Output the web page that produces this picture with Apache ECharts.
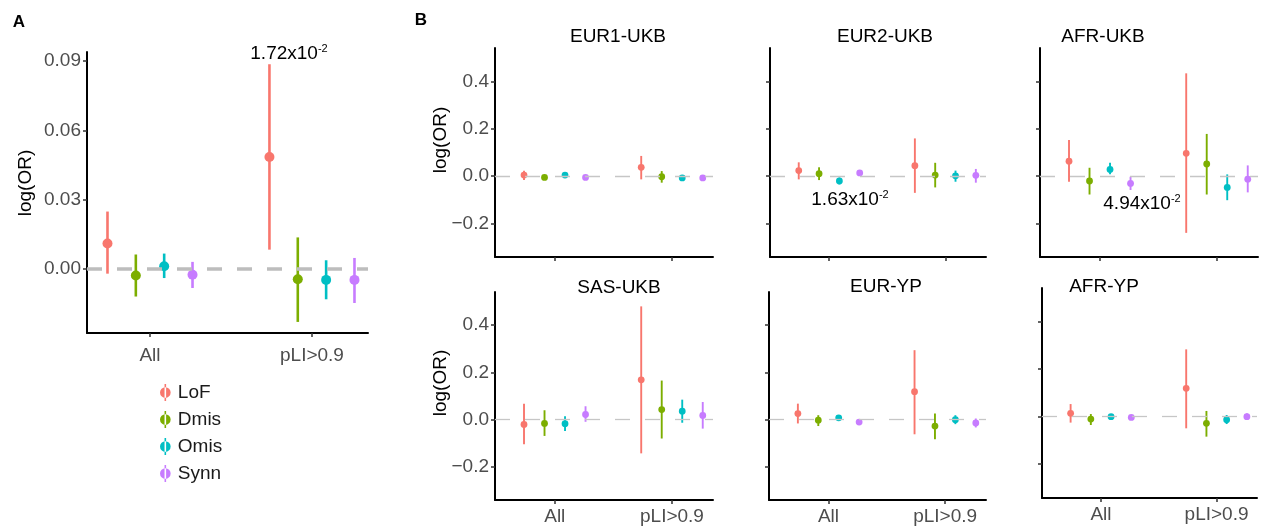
<!DOCTYPE html>
<html><head><meta charset="utf-8">
<script src="https://cdn.jsdelivr.net/npm/echarts@6/dist/echarts.min.js"></script>
<style>html,body{margin:0;padding:0;background:#fff}#c{width:1263px;height:531px}</style>
</head><body><div id="c"></div>
<script>
// ---------- data ----------
const categories = ['All', 'pLI>0.9'];
const groups = ['LoF', 'Dmis', 'Omis', 'Synn'];
const yTicksA = [0, 0.03, 0.06, 0.09];
const yTicksB = [-0.2, 0, 0.2, 0.4];

// rows = groups (LoF, Dmis, Omis, Synn), cols = categories (All, pLI>0.9)
const allEst = [[0.0111, 0.0485], [-0.0028, -0.0044], [0.0012, -0.0047], [-0.0025, -0.0047]];
const allLo  = [[-0.0020, 0.0084], [-0.0119, -0.0229], [-0.0039, -0.0131], [-0.0082, -0.0147]];
const allHi  = [[0.0249, 0.0887], [0.0063, 0.0137], [0.0067, 0.0038], [0.0031, 0.0048]];

const eur1UkbEst = [[0.004, 0.037], [-0.006, -0.003], [0.004, -0.008], [-0.006, -0.008]];
const eur1UkbLo  = [[-0.017, -0.014], [-0.013, -0.028], [-0.004, -0.018], [-0.013, -0.017]];
const eur1UkbHi  = [[0.022, 0.085], [0.001, 0.021], [0.012, 0.002], [0.001, 0.001]];

const eur2UkbEst = [[0.023, 0.044], [0.010, 0.004], [-0.021, 0.001], [0.013, 0.003]];
const eur2UkbLo  = [[-0.014, -0.071], [-0.017, -0.048], [-0.035, -0.024], [0.000, -0.028]];
const eur2UkbHi  = [[0.058, 0.159], [0.037, 0.056], [-0.006, 0.023], [0.025, 0.030]];

const afrUkbEst = [[0.063, 0.096], [-0.021, 0.051], [0.028, -0.048], [-0.031, -0.013]];
const afrUkbLo  = [[-0.024, -0.240], [-0.078, -0.078], [0.008, -0.102], [-0.059, -0.069]];
const afrUkbHi  = [[0.152, 0.434], [0.035, 0.178], [0.056, 0.007], [-0.003, 0.045]];

const sasUkbEst = [[-0.021, 0.168], [-0.017, 0.042], [-0.018, 0.035], [0.021, 0.017]];
const sasUkbLo  = [[-0.105, -0.144], [-0.070, -0.081], [-0.049, -0.014], [-0.010, -0.039]];
const sasUkbHi  = [[0.067, 0.480], [0.039, 0.165], [0.014, 0.084], [0.056, 0.074]];

const eurYpEst = [[0.025, 0.118], [-0.003, -0.028], [0.007, -0.001], [-0.011, -0.015]];
const eurYpLo  = [[-0.017, -0.063], [-0.028, -0.084], [-0.003, -0.020], [-0.019, -0.034]];
const eurYpHi  = [[0.067, 0.294], [0.018, 0.025], [0.015, 0.018], [-0.003, 0.004]];

const afrYpEst = [[0.014, 0.119], [-0.010, -0.028], [0.000, -0.013], [-0.003, 0.000]];
const afrYpLo  = [[-0.025, -0.049], [-0.035, -0.084], [-0.007, -0.031], [-0.010, -0.014]];
const afrYpHi  = [[0.053, 0.283], [0.011, 0.024], [0.007, 0.007], [0.004, 0.014]];

const panelTitles = ['', 'EUR1-UKB', 'EUR2-UKB', 'AFR-UKB', 'SAS-UKB', 'EUR-YP', 'AFR-YP'];
const pValues = ['1.72x10', '1.63x10', '4.94x10'];
const pExp = ['-2', '-2', '-2'];

// ---------- styling / layout ----------
const colors = ['#F8766D', '#7CAE00', '#00BFC4', '#C77CFF'];
const dodge = [-0.2625, -0.0875, 0.0875, 0.2625];
const FONT = 'Liberation Sans, Arial, Helvetica, sans-serif';
const FS = 19;

const panelData = [
  [allEst, allLo, allHi],
  [eur1UkbEst, eur1UkbLo, eur1UkbHi],
  [eur2UkbEst, eur2UkbLo, eur2UkbHi],
  [afrUkbEst, afrUkbLo, afrUkbHi],
  [sasUkbEst, sasUkbLo, sasUkbHi],
  [eurYpEst, eurYpLo, eurYpHi],
  [afrYpEst, afrYpLo, afrYpHi]
];

// grid geometry: [left, top, width, height]
const layout = [
  [87, 52, 281, 281],
  [495, 48, 218, 209],
  [770, 48, 216, 209],
  [1040, 48, 218, 209],
  [495, 292, 218, 208],
  [769, 292, 217, 208],
  [1042, 288, 215, 210]
];
const showYLabel = [true, true, false, false, true, false, false];
const showXLabel = [true, false, false, false, true, true, true];

function makeRender(r, lw) {
  return function (params, api) {
    const x = api.value(0);
    const pm = api.coord([x, api.value(1)]);
    const pl = api.coord([x, api.value(2)]);
    const ph = api.coord([x, api.value(3)]);
    const color = api.visual('color');
    return {
      type: 'group',
      children: [
        { type: 'line', shape: { x1: pl[0], y1: pl[1], x2: ph[0], y2: ph[1] }, style: { stroke: color, lineWidth: lw } },
        { type: 'circle', shape: { cx: pm[0], cy: pm[1], r: r }, style: { fill: color } }
      ]
    };
  };
}

const grids = [], xAxes = [], yAxes = [], series = [];
panelData.forEach((pd, p) => {
  const isA = p === 0;
  const L = layout[p];
  grids.push({ left: L[0], top: L[1], width: L[2], height: L[3], containLabel: false });
  xAxes.push({
    type: 'value', gridIndex: p,
    min: isA ? 0.611 : 0.49, max: isA ? 2.346 : 2.35,
    axisLine: { onZero: false, lineStyle: { color: '#000', width: 2 } },
    axisTick: { customValues: [1, 2], length: 4, lineStyle: { color: '#333', width: 1.5 } },
    axisLabel: {
      show: showXLabel[p], customValues: [1, 2],
      formatter: v => categories[Math.round(v) - 1],
      color: '#4D4D4D', fontSize: FS, fontFamily: FONT, margin: isA ? 13 : 7
    },
    splitLine: { show: false }
  });
  const ticks = isA ? yTicksA : yTicksB;
  yAxes.push({
    type: 'value', gridIndex: p,
    min: isA ? -0.0277 : -0.342, max: isA ? 0.094 : 0.541,
    axisLine: { onZero: false, lineStyle: { color: '#000', width: 2 } },
    axisTick: { customValues: ticks, length: 4, lineStyle: { color: '#333', width: 1.5 } },
    axisLabel: {
      show: showYLabel[p], customValues: ticks,
      formatter: v => (v < -1e-9 ? '\u2212' : '') + Math.abs(v).toFixed(isA ? 2 : 1),
      color: '#4D4D4D', fontSize: FS, fontFamily: FONT, margin: 6
    },
    splitLine: { show: false }
  });
  // zero reference line
  series.push({
    type: 'line', xAxisIndex: p, yAxisIndex: p, data: [], silent: true, z: 1,
    markLine: {
      silent: true, symbol: ['none', 'none'], label: { show: false }, animation: false,
      lineStyle: { type: [15, 15], color: isA ? '#BDBDBD' : '#C6C6C6', width: isA ? 3.5 : 1.3 },
      data: [{ yAxis: 0 }]
    }
  });
  const [est, lo, hi] = pd;
  groups.forEach((g, gi) => {
    series.push({
      type: 'custom', name: g, xAxisIndex: p, yAxisIndex: p, z: 3,
      itemStyle: { color: colors[gi] },
      renderItem: isA ? makeRender(5, 2.6) : makeRender(3.4, 1.9),
      data: categories.map((c, ci) => [ci + 1 + dodge[gi], est[gi][ci], lo[gi][ci], hi[gi][ci]])
    });
  });
});

const graphics = [];
// panel letters
graphics.push({ type: 'text', x: 19, y: 22, style: { text: 'A', font: 'bold 17px ' + FONT, fill: '#000', align: 'center', verticalAlign: 'middle' } });
graphics.push({ type: 'text', x: 421, y: 20, style: { text: 'B', font: 'bold 17px ' + FONT, fill: '#000', align: 'center', verticalAlign: 'middle' } });
// facet titles
const titlePos = [null, [618, 37], [885, 37], [1103, 37], [619, 288], [886, 287], [1104, 287]];
panelTitles.forEach((t, i) => {
  if (!t) return;
  graphics.push({ type: 'text', x: titlePos[i][0], y: titlePos[i][1], style: { text: t, fontSize: FS, fontFamily: FONT, fill: '#000', align: 'center', verticalAlign: 'middle' } });
});
// y axis names
[[26, 183], [441, 140], [441, 383]].forEach(pos => {
  graphics.push({ type: 'text', x: pos[0], y: pos[1], rotation: Math.PI / 2, style: { text: 'log(OR)', fontSize: FS, fontFamily: FONT, fill: '#000', align: 'center', verticalAlign: 'middle' } });
});
// p-value annotations
const annPos = [[289, 54], [850, 200], [1142, 204]];
pValues.forEach((t, i) => {
  graphics.push({
    type: 'text', x: annPos[i][0], y: annPos[i][1],
    style: {
      text: '{m|' + t + '}{s|' + pExp[i] + '}', align: 'center', verticalAlign: 'middle',
      rich: {
        m: { fontSize: FS, fontFamily: FONT, fill: '#000', lineHeight: 22 },
        s: { fontSize: 11, fontFamily: FONT, fill: '#000', verticalAlign: 'top', lineHeight: 12 }
      }
    }
  });
});

const chart = echarts.init(document.getElementById('c'), null, { renderer: 'canvas' });
chart.setOption({
  animation: false,
  backgroundColor: '#fff',
  grid: grids, xAxis: xAxes, yAxis: yAxes, series: series,
  legend: {
    data: groups, orient: 'vertical', left: 155, top: 378,
    itemWidth: 11, itemHeight: 17, itemGap: 8,
    icon: 'path://M4,0h1.4v15h-1.4z M0,7.5a4.7,4.7 0 1,0 9.4,0a4.7,4.7 0 1,0 -9.4,0z',
    textStyle: { fontSize: FS, fontFamily: FONT, color: '#1a1a1a', padding: [0, 0, 0, 2] }
  },
  graphic: graphics
});
</script></body></html>
